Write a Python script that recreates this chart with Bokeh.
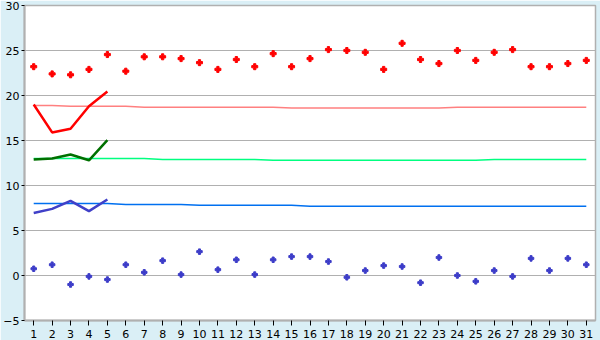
from bokeh.plotting import figure
from bokeh.models import Range1d, FixedTicker
from bokeh.embed import file_html
from bokeh.resources import INLINE

days = list(range(1, 32))
max_obs = [23.2, 22.4, 22.3, 22.9, 24.55, 22.7, 24.3, 24.3, 24.1, 23.65,
           22.9, 24.0, 23.2, 24.65, 23.2, 24.1, 25.1, 25.0, 24.8, 22.9,
           25.8, 24.0, 23.55, 25.0, 23.9, 24.8, 25.1, 23.2, 23.2, 23.55, 23.9]
min_obs = [0.75, 1.2, -1.0, -0.1, -0.45, 1.2, 0.35, 1.65, 0.1, 2.65,
           0.65, 1.75, 0.1, 1.75, 2.1, 2.1, 1.55, -0.2, 0.55, 1.1,
           1.0, -0.8, 2.0, 0.0, -0.65, 0.55, -0.1, 1.9, 0.55, 1.9, 1.2]
cur_days = [1, 2, 3, 4, 5]
max_cur = [19.0, 15.9, 16.3, 18.8, 20.45]
mean_cur = [12.9, 13.0, 13.45, 12.8, 15.05]
min_cur = [6.95, 7.4, 8.3, 7.15, 8.45]
max_norm = [18.9, 18.9] + [18.8] * 4 + [18.7] * 8 + [18.6] * 9 + [18.7] * 8
mean_norm = [13.0] * 7 + [12.9] * 6 + [12.8] * 12 + [12.9] * 6
min_norm = [8.0] * 5 + [7.9] * 4 + [7.8] * 6 + [7.7] * 16
y_ticks = [-5, 0, 5, 10, 15, 20, 25, 30]

BG = "#daeff6"
GRID = "#b0b0b0"

p = figure(width=600, height=340, output_backend="svg", toolbar_location=None,
           x_range=Range1d(0.5, 31.5), y_range=Range1d(-5, 30))
p.background_fill_color = "white"
p.border_fill_color = BG
p.outline_line_color = GRID
p.outline_line_width = 1.5
p.min_border_left = 21
p.min_border_right = 5
p.min_border_top = 5
p.min_border_bottom = 20

p.xaxis.ticker = FixedTicker(ticks=days)
p.yaxis.ticker = FixedTicker(ticks=y_ticks)
for ax in (p.xaxis[0], p.yaxis[0]):
    ax.axis_line_color = GRID
    ax.axis_line_width = 2
    ax.major_tick_line_color = "black"
    ax.major_tick_in = 0
    ax.minor_tick_line_color = None
    ax.major_label_text_font = "DejaVu Sans"
    ax.major_label_text_font_size = "11px"
    ax.major_label_text_color = "black"
    ax.major_label_standoff = 2
p.xaxis.major_tick_out = 5
p.xaxis.major_label_standoff = 4
p.yaxis.major_tick_out = 3
p.xgrid.grid_line_color = None
p.ygrid.grid_line_color = GRID
p.ygrid.grid_line_width = 1

p.line(days, max_norm, line_color="#ff8080", line_width=1.5)
p.line(days, mean_norm, line_color="#00ff80", line_width=1.5)
p.line(days, min_norm, line_color="#0070f0", line_width=1.5)

p.line(cur_days, max_cur, line_color="#ff0000", line_width=2.5)
p.line(cur_days, mean_cur, line_color="#007000", line_width=2.5)
p.line(cur_days, min_cur, line_color="#4040c8", line_width=2.5)

p.scatter(days, max_obs, marker="plus", size=6, color="#ff0000")
p.scatter(days, min_obs, marker="plus", size=5.5, color="#3c3cc8")

open("out.html", "w").write(file_html(p, INLINE))
